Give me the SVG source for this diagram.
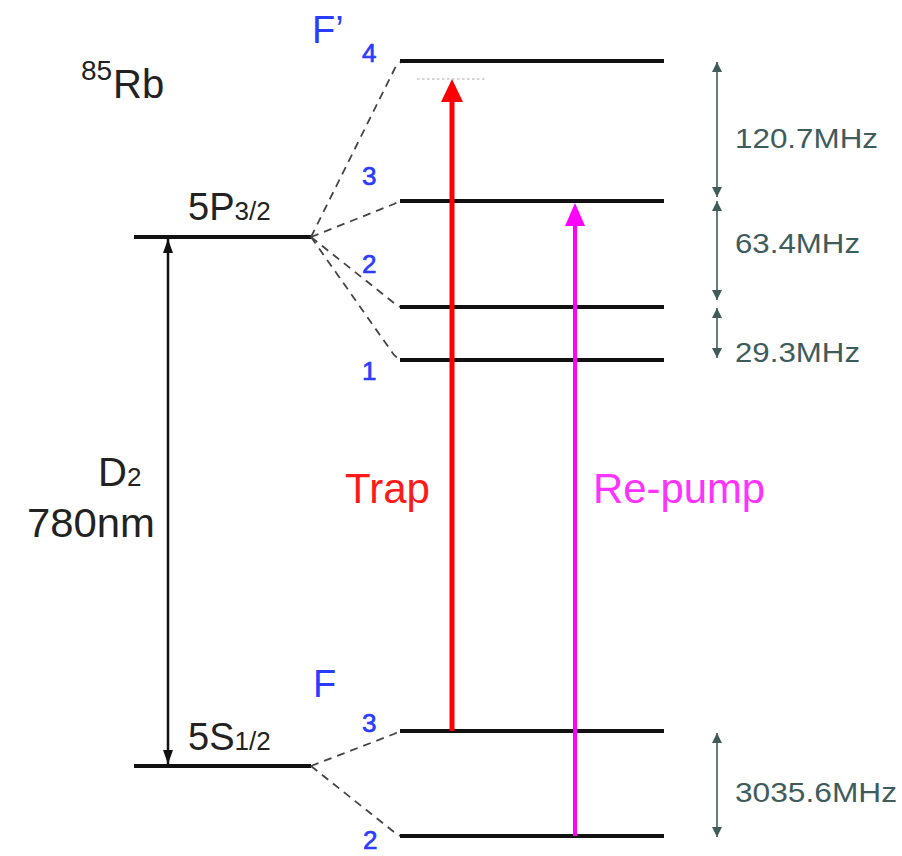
<svg xmlns="http://www.w3.org/2000/svg" width="902" height="856" viewBox="0 0 902 856">
<defs>
<style>
.lvl{stroke:#111;stroke-width:4;fill:none}
.dash{stroke:#444;stroke-width:1.8;stroke-dasharray:8,6;fill:none}
.t{font-family:"Liberation Sans",Arial,sans-serif;fill:#222}
.blue{font-family:"Liberation Sans",Arial,sans-serif;fill:#2a3cff}
.num{font-family:"Liberation Sans",Arial,sans-serif;fill:#2a3cff;stroke:#2a3cff;stroke-width:0.7;font-size:26px}
.freq{font-family:"Liberation Sans",Arial,sans-serif;fill:#3f5c5c;font-size:28px}
.dim{stroke:#3f5c5c;stroke-width:1.6;fill:none}
</style>
<marker id="ah" viewBox="0 0 10 10" refX="10" refY="5" markerWidth="10" markerHeight="10" markerUnits="userSpaceOnUse" orient="auto-start-reverse">
<path d="M0,0 L10,5 L0,10 Z" fill="#3f5c5c"/>
</marker>
<marker id="bk" viewBox="0 0 14 10" refX="14" refY="5" markerWidth="14" markerHeight="10" markerUnits="userSpaceOnUse" orient="auto-start-reverse">
<path d="M0,0 L14,5 L0,10 Z" fill="#111"/>
</marker>
</defs>
<rect width="902" height="856" fill="#fff"/>

<g id="title">
<text class="t" x="81" y="80" font-size="28">85</text>
<text class="t" x="113" y="98" font-size="40">Rb</text>
</g>

<g id="level-5P">
<line class="lvl" x1="134" y1="237" x2="311" y2="237"/>
<text class="t" x="188" y="220" font-size="38">5P<tspan font-size="26">3/2</tspan></text>
</g>

<g id="level-5S">
<line class="lvl" x1="134" y1="766" x2="311" y2="766"/>
<text class="t" x="188" y="750" font-size="38">5S<tspan font-size="26">1/2</tspan></text>
</g>

<g id="D2">
<line x1="168" y1="239" x2="168" y2="764" stroke="#111" stroke-width="2.5" marker-start="url(#bk)" marker-end="url(#bk)"/>
<text class="t" x="98" y="486" font-size="40">D<tspan font-size="26">2</tspan></text>
<text class="t" x="27" y="537" font-size="41" textLength="128" lengthAdjust="spacingAndGlyphs">780nm</text>
</g>

<g id="connectors">
<polyline class="dash" points="311,237 396,66 402,61"/>
<polyline class="dash" points="311,237 394,204 400,201"/>
<polyline class="dash" points="311,237 394,303 400,307"/>
<polyline class="dash" points="311,237 394,355 400,360"/>
<polyline class="dash" points="311,766 394,734 400,731"/>
<polyline class="dash" points="311,766 394,832 400,836"/>
</g>

<g id="Fp">
<text class="blue" x="312" y="43" font-size="38">F’</text>
</g>
<g id="Fp4">
<line class="lvl" x1="400" y1="61" x2="664" y2="61"/>
<text class="num" x="362" y="62">4</text>
</g>
<g id="Fp3">
<line class="lvl" x1="400" y1="201" x2="664" y2="201"/>
<text class="num" x="362" y="185">3</text>
</g>
<g id="Fp2">
<line class="lvl" x1="400" y1="307" x2="664" y2="307"/>
<text class="num" x="362" y="273">2</text>
</g>
<g id="Fp1">
<line class="lvl" x1="400" y1="360" x2="664" y2="360"/>
<text class="num" x="362" y="380">1</text>
</g>

<g id="F">
<text class="blue" x="313" y="697" font-size="38">F</text>
</g>
<g id="F3">
<line class="lvl" x1="400" y1="731" x2="664" y2="731"/>
<text class="num" x="362" y="732">3</text>
</g>
<g id="F2">
<line class="lvl" x1="400" y1="836" x2="664" y2="836"/>
<text class="num" x="363" y="849" font-size="24">2</text>
</g>

<g id="trap">
<line x1="417" y1="79" x2="485" y2="79" stroke="#aaa" stroke-width="1.2" stroke-dasharray="2.5,2.5"/>
<line x1="452" y1="731" x2="452" y2="100" stroke="#ff0000" stroke-width="5"/>
<path d="M452,79 L463,102 L441,102 Z" fill="#ff0000"/>
<text x="345" y="503" font-family="Liberation Sans, Arial, sans-serif" font-size="42" fill="#ff1a1a" textLength="85" lengthAdjust="spacingAndGlyphs">Trap</text>
</g>

<g id="repump">
<line x1="575" y1="836" x2="575" y2="224" stroke="#ff00ff" stroke-width="4"/>
<path d="M575,203 L585,226 L565,226 Z" fill="#ff00ff"/>
<text x="593" y="503" font-family="Liberation Sans, Arial, sans-serif" font-size="42" fill="#ff33ff" textLength="172" lengthAdjust="spacingAndGlyphs">Re-pump</text>
</g>

<g id="split-120">
<line class="dim" x1="717" y1="62" x2="717" y2="197" marker-start="url(#ah)" marker-end="url(#ah)"/>
<text class="freq" x="735" y="148" textLength="143" lengthAdjust="spacingAndGlyphs">120.7MHz</text>
</g>
<g id="split-63">
<line class="dim" x1="717" y1="201" x2="717" y2="300" marker-start="url(#ah)" marker-end="url(#ah)"/>
<text class="freq" x="735" y="253" textLength="125" lengthAdjust="spacingAndGlyphs">63.4MHz</text>
</g>
<g id="split-29">
<line class="dim" x1="717" y1="308" x2="717" y2="358" marker-start="url(#ah)" marker-end="url(#ah)"/>
<text class="freq" x="735" y="362" textLength="125" lengthAdjust="spacingAndGlyphs">29.3MHz</text>
</g>
<g id="split-3035">
<line class="dim" x1="717" y1="733" x2="717" y2="837" marker-start="url(#ah)" marker-end="url(#ah)"/>
<text class="freq" x="735" y="802" textLength="162" lengthAdjust="spacingAndGlyphs">3035.6MHz</text>
</g>
</svg>
